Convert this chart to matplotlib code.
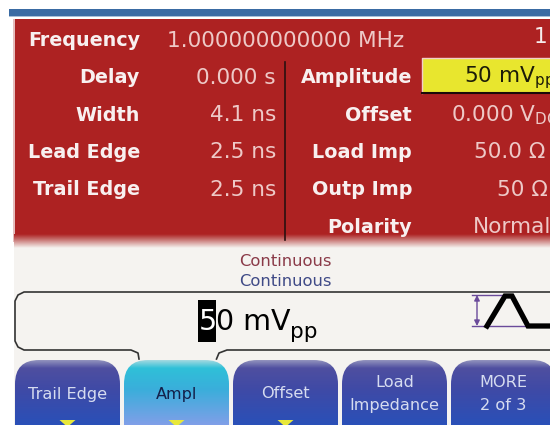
import matplotlib
matplotlib.use('Agg')
import matplotlib.pyplot as plt
from matplotlib.patches import FancyBboxPatch, Rectangle, Polygon
import numpy as np

plt.rcParams['font.family'] = ['DejaVu Sans']
plt.rcParams['mathtext.default'] = 'regular'

# left column of the settings panel
left_labels = ['Delay', 'Width', 'Lead Edge', 'Trail Edge']
left_values = ['0.000 s', '4.1 ns', '2.5 ns', '2.5 ns']
# right column, values are cut off by the right edge like in the screenshot
right_labels = ['Amplitude', 'Offset', 'Load Imp', 'Outp Imp', 'Polarity']
right_values = [r'50 mV$_{pp}$', r'0.000 V$_{DC}$', '50.0 Ω', '50 Ω', 'Normal']
softkeys = ['Trail Edge', 'Ampl', 'Offset', 'Load\nImpedance', 'MORE\n2 of 3']
softkey_left = [15, 124, 233, 342, 451]
softkey_arrow = [True, True, True, False, False]

fig = plt.figure(figsize=(5.5, 4.25), dpi=100)
ax = fig.add_axes([0, 0, 1, 1])
ax.set_xlim(0, 550)
ax.set_ylim(425, 0)
ax.axis('off')

def gradient(x0, x1, y0, y1, stops, colors, clip=None, z=1):
    ys = np.linspace(0, 1, 64)
    rgb = np.array([matplotlib.colors.to_rgb(c) for c in colors])
    img = np.stack([np.interp(ys, stops, rgb[:, i]) for i in range(3)], axis=1)[:, None, :]
    im = ax.imshow(img, extent=[x0, x1, y1, y0], aspect='auto', zorder=z, interpolation='bilinear')
    if clip is not None:
        im.set_clip_path(clip)
    return im

# top stripe
ax.add_patch(Rectangle((9, 9), 541, 6.5, color='#3a6ba3', lw=0, zorder=1))
ax.add_patch(Rectangle((9, 15.5), 541, 1.5, color='#a9c0d8', lw=0, zorder=1))

# lower background and red panel
ax.add_patch(Rectangle((14, 240), 536, 185, color='#f5f3f0', lw=0, zorder=0))
ax.add_patch(Rectangle((14, 19), 536, 223, color='#ad2222', lw=0, zorder=1))
ax.add_patch(Rectangle((13, 19), 1.5, 223, color='#e5bcbc', lw=0, zorder=2))
gradient(14, 550, 234, 248, [0, 0.35, 1], ['#ad2222', '#c46a68', '#f5f3f0'], z=2)

ROW_Y = 40.5
ROW_H = 37.3
bold = dict(color='#f8f0f0', fontsize=13.8, fontweight='bold', va='center', ha='right', zorder=4)
thin = dict(color='#eec9c7', fontsize=15.6, va='center', zorder=4, clip_on=True)

ax.text(140, ROW_Y, 'Frequency', **bold)
ax.text(167, ROW_Y, '1.000000000000 MHz', ha='left', **thin)
ax.text(534, ROW_Y - 4, '1', ha='left', fontsize=15.6, va='center', zorder=4, color='#f6ecec')

for i, (lab, val) in enumerate(zip(left_labels, left_values)):
    y = ROW_Y + ROW_H * (i + 1)
    ax.text(140, y, lab, **bold)
    ax.text(276, y, val, ha='right', **thin)

ax.plot([285, 285], [62, 240], color='#2a1010', lw=1.2, zorder=3)

# highlighted amplitude field
ax.add_patch(Rectangle((422, 58), 130, 35, facecolor='#e8e62e', edgecolor='none', zorder=3))
ax.plot([422, 422, 550], [93, 58, 58], color='#f3d0c8', lw=1, zorder=3)
ax.plot([422, 550], [93, 93], color='#1a0a0a', lw=1.5, zorder=3)

right_x = [464, 451, 474, 497, 473]
for i, (lab, val) in enumerate(zip(right_labels, right_values)):
    y = ROW_Y + ROW_H * (i + 1)
    ax.text(412, y, lab, **bold)
    style = dict(thin)
    if i == 0:
        style['color'] = '#1c1c08'
    ax.text(right_x[i], y, val, ha='left', **style)

# status lines
ax.text(285, 261, 'Continuous', color='#8a3a48', fontsize=11.8, ha='center', va='center', zorder=4)
ax.text(285, 282, 'Continuous', color='#3f4a86', fontsize=11.8, ha='center', va='center', zorder=4)

# entry box outline
outline_x = [550, 24, 18, 15, 15, 18, 24, 131, 138, 139]
outline_y = [292, 292, 295, 301, 341, 347, 350, 350, 353, 359]
ax.plot(outline_x, outline_y, color='#333333', lw=1.2, zorder=3)
outline_x = [550, 227, 219, 216.5]
outline_y = [350, 350, 353, 359]
ax.plot(outline_x, outline_y, color='#333333', lw=1.2, zorder=3)

# entry value with cursor
ax.add_patch(Rectangle((198, 300), 18, 42, color='black', lw=0, zorder=3))
ax.text(199, 322, '5', color='white', fontsize=20.5, ha='left', va='center', zorder=4)
ax.text(215.5, 322, '0 mV', color='black', fontsize=20.5, ha='left', va='center', zorder=4)
ax.text(290, 332, 'pp', color='black', fontsize=15.5, ha='left', va='center', zorder=4)

# waveform icon
ax.plot([472, 512], [295, 295], color='#6a4a9a', lw=1, zorder=3)
ax.plot([472, 530], [326, 326], color='#6a4a9a', lw=1, zorder=3)
ax.annotate('', xy=(477, 295), xytext=(477, 326), zorder=3,
            arrowprops=dict(arrowstyle='<|-|>', color='#6a4a9a', lw=1, mutation_scale=8, shrinkA=0, shrinkB=0))
ax.plot([487, 505, 512, 528, 550], [326, 296, 296, 326, 326], color='black', lw=3.8, zorder=4,
        solid_joinstyle='miter')

# softkeys
for i, (left, lab) in enumerate(zip(softkey_left, softkeys)):
    width = 105
    active = lab == 'Ampl'
    box = FancyBboxPatch((left + 1, 361), width - 2, 90, boxstyle='round,pad=1,rounding_size=24',
                         facecolor='none', edgecolor='none', zorder=2)
    ax.add_patch(box)
    if active:
        gradient(left, left + width, 360, 425, [0, 0.12, 0.45, 1], ['#9fd8e0', '#2fc0d8', '#3aaedb', '#7f9fe8'], clip=box, z=2)
    else:
        gradient(left, left + width, 360, 425, [0, 0.12, 0.45, 1], ['#8f90bc', '#4f4fa0', '#3f4aa6', '#2a50b8'], clip=box, z=2)
    color = '#14204a' if active else '#d6dcf0'
    ax.text(left + width / 2, 394, lab, color=color, fontsize=11.6, ha='center', va='center',
            linespacing=1.6, zorder=4)
    if softkey_arrow[i]:
        cx = left + width / 2
        ax.add_patch(Polygon([[cx - 8, 420], [cx + 8, 420], [cx, 427]], closed=True, color='#e8e83a', lw=0, zorder=4))

fig.savefig('out.png', dpi=100)
